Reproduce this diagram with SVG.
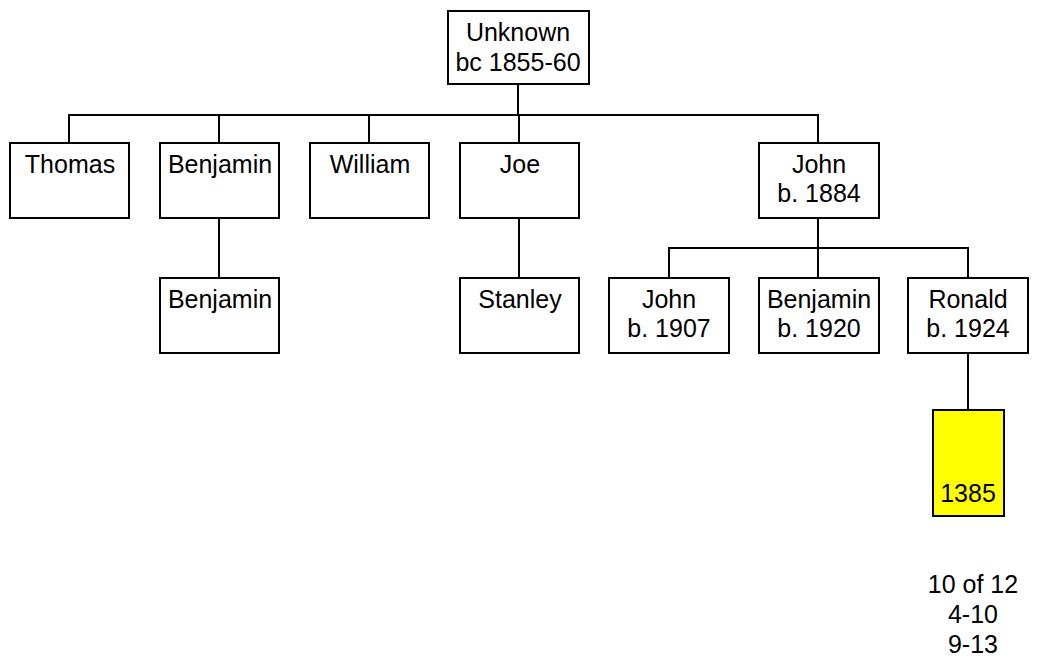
<svg xmlns="http://www.w3.org/2000/svg" width="1037" height="662" viewBox="0 0 1037 662">
<style>
.box{fill:#fff;stroke:#000;stroke-width:2}
.hl{fill:#ffff00;stroke:#000;stroke-width:2}
text{font-family:"Liberation Sans",Arial,sans-serif;font-size:25px;fill:#000;text-anchor:middle}
.c{fill:none;stroke:#000;stroke-width:2}
</style>
<rect width="1037" height="662" fill="#fff"/>
<g id="connectors">
<path class="c" d="M518,84V115M69,143V115H818V143M219,115V143M369,115V143M519,115V143"/>
<path class="c" d="M219,218V278M519,218V278"/>
<path class="c" d="M818,218V248M669,278V248H968V278M818,248V278"/>
<path class="c" d="M968,353V410"/>
</g>
<g id="n-unknown"><rect class="box" x="448" y="11" width="141" height="73"/><text x="518" y="41">Unknown</text><text x="518" y="71">bc 1855-60</text></g>
<g id="n-thomas"><rect class="box" x="10" y="143" width="119" height="75"/><text x="70" y="173">Thomas</text></g>
<g id="n-benjamin1"><rect class="box" x="160" y="143" width="119" height="75"/><text x="220" y="173">Benjamin</text></g>
<g id="n-william"><rect class="box" x="310" y="143" width="119" height="75"/><text x="370" y="173">William</text></g>
<g id="n-joe"><rect class="box" x="460" y="143" width="119" height="75"/><text x="520" y="173">Joe</text></g>
<g id="n-john1884"><rect class="box" x="759" y="143" width="120" height="75"/><text x="819" y="173">John</text><text x="819" y="202">b. 1884</text></g>
<g id="n-benjamin2"><rect class="box" x="160" y="278" width="119" height="75"/><text x="220" y="308">Benjamin</text></g>
<g id="n-stanley"><rect class="box" x="460" y="278" width="119" height="75"/><text x="520" y="308">Stanley</text></g>
<g id="n-john1907"><rect class="box" x="609" y="278" width="120" height="75"/><text x="669" y="308">John</text><text x="669" y="337">b. 1907</text></g>
<g id="n-benjamin1920"><rect class="box" x="759" y="278" width="120" height="75"/><text x="819" y="308">Benjamin</text><text x="819" y="337">b. 1920</text></g>
<g id="n-ronald"><rect class="box" x="908" y="278" width="120" height="75"/><text x="968" y="308">Ronald</text><text x="968" y="337">b. 1924</text></g>
<g id="n-1385"><rect class="hl" x="933" y="410" width="71" height="106"/><text x="968" y="502">1385</text></g>
<g id="notes"><text x="973" y="593">10 of 12</text><text x="973" y="623">4-10</text><text x="973" y="653">9-13</text></g>
</svg>
